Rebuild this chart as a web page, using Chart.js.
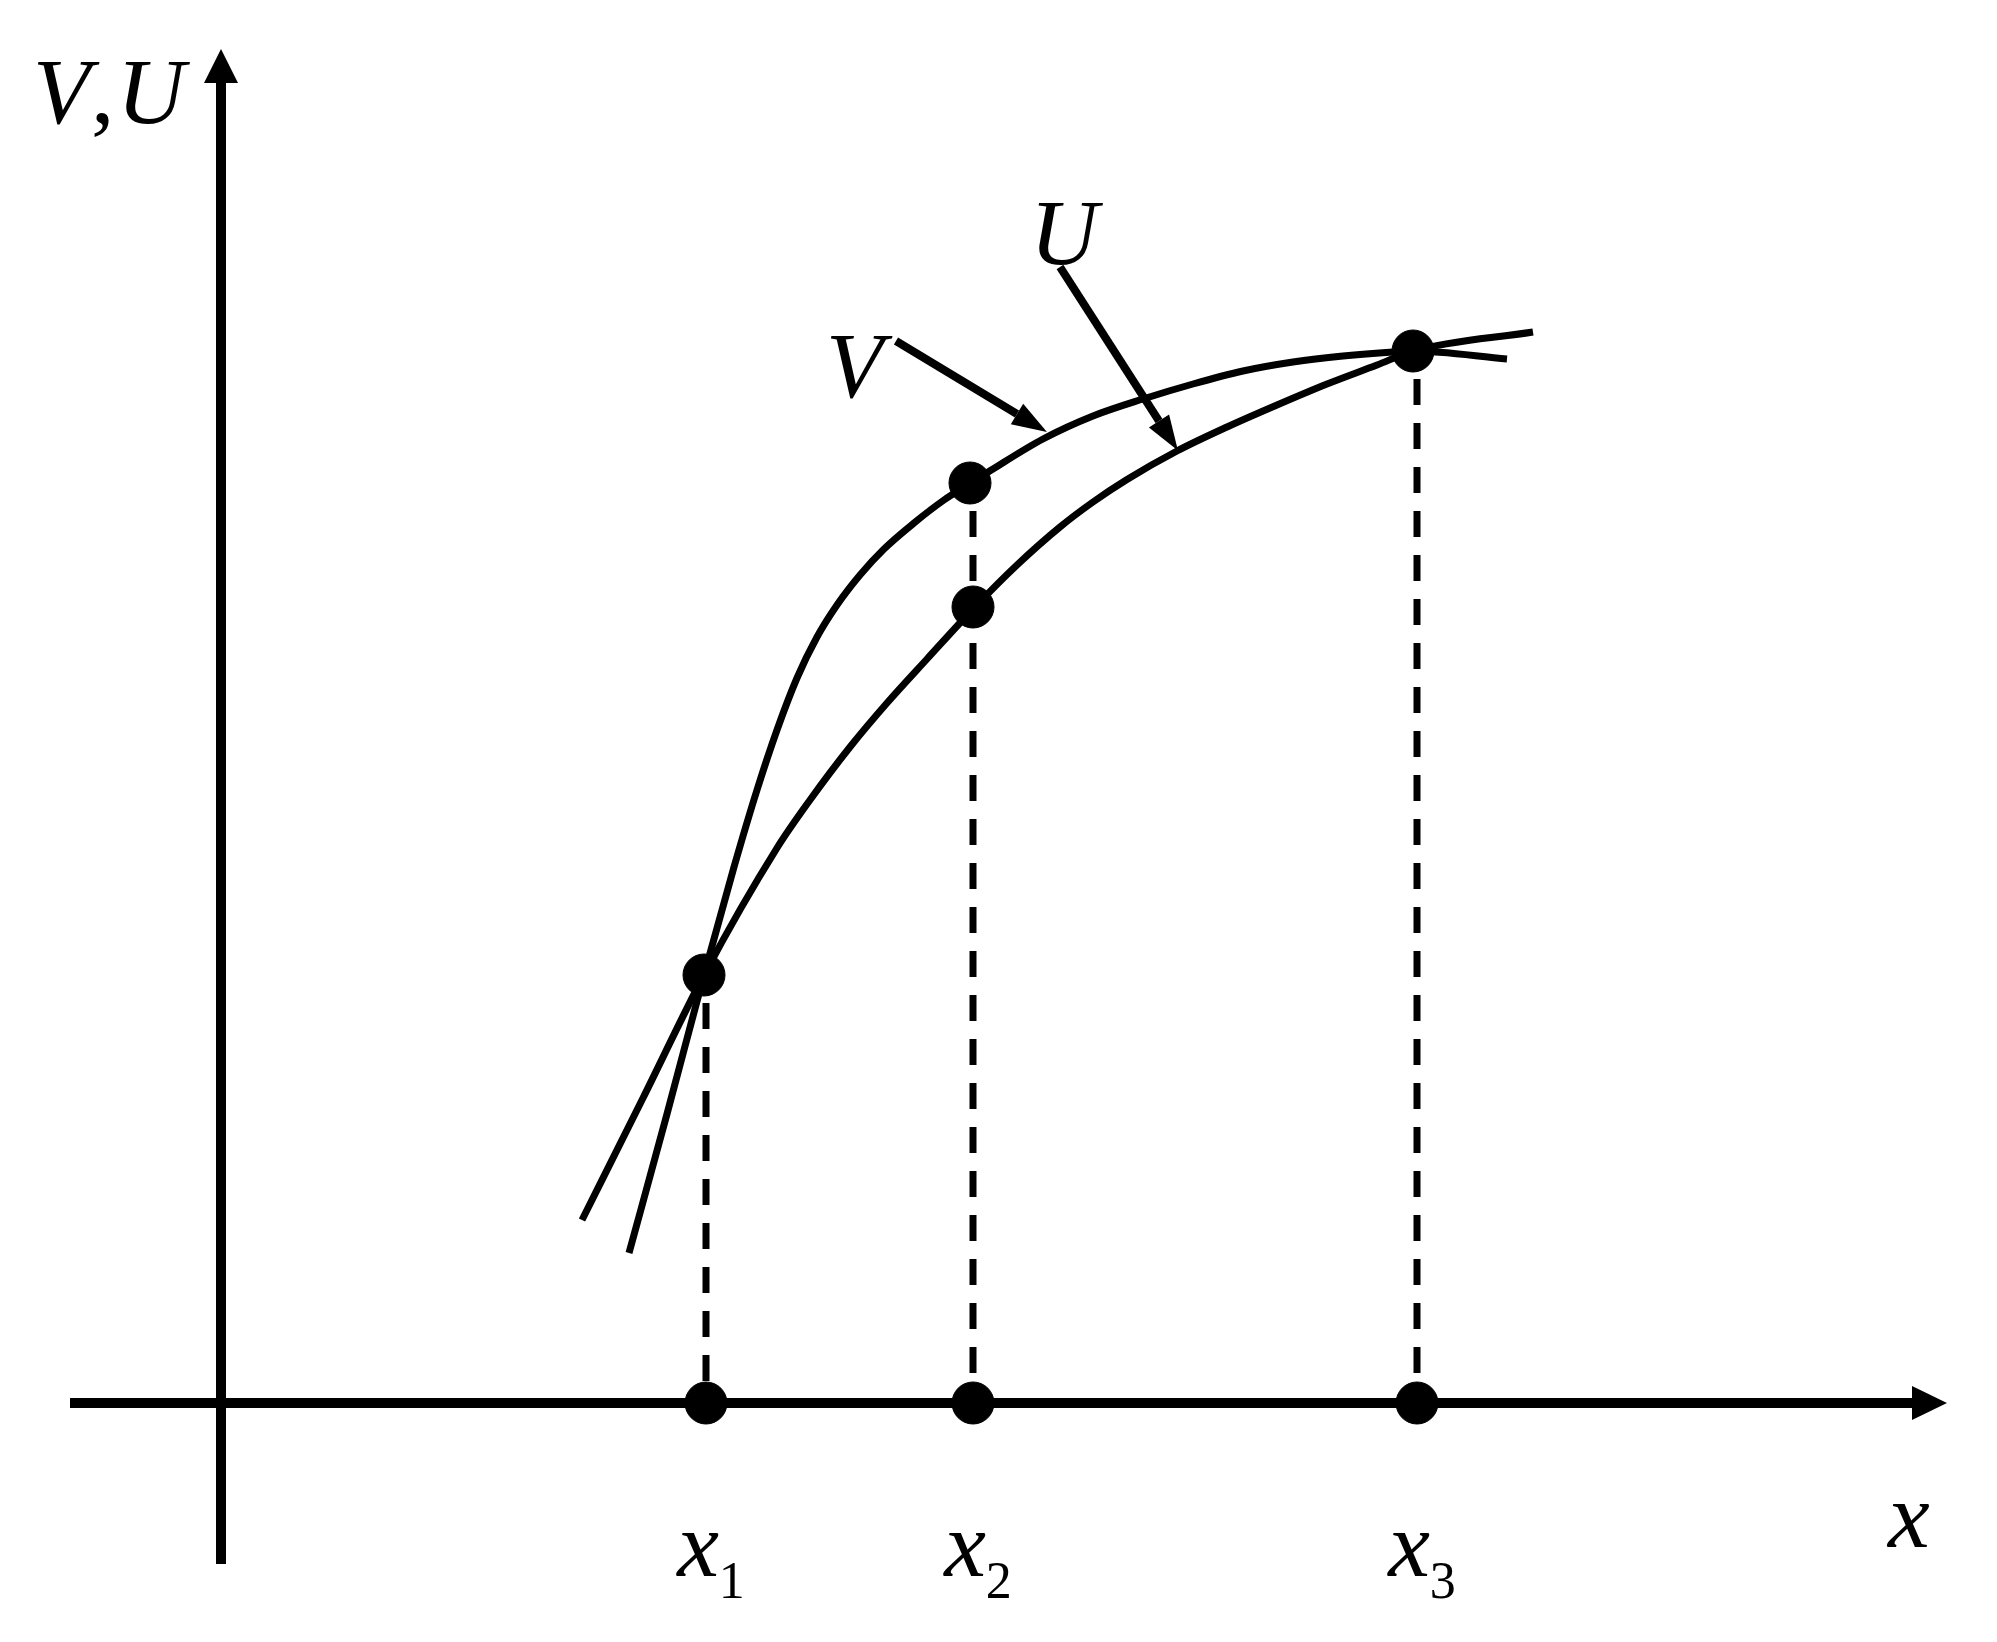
<!DOCTYPE html>
<html>
<head>
<meta charset="utf-8">
<script src="https://cdn.jsdelivr.net/npm/chart.js@4.4.1/dist/chart.umd.min.js"></script>
<style>
  html, body { margin: 0; padding: 0; background: #fff; }
</style>
</head>
<body>
<canvas id="chart" width="1997" height="1642"></canvas>
<script>
// curve V (upper one between x1 and x3)
const vX = [4.08, 4.46, 4.83, 5.13, 5.36, 5.56, 5.76, 5.96, 6.16, 6.39, 6.63, 6.93, 7.23, 7.50, 7.72, 8.22, 8.72, 9.22, 9.72, 10.22, 10.72, 11.22, 11.72, 11.92, 12.86];
const vY = [1.50, 2.89, 4.28, 5.36, 6.13, 6.73, 7.25, 7.66, 7.98, 8.28, 8.54, 8.80, 9.03, 9.20, 9.34, 9.64, 9.87, 10.04, 10.19, 10.32, 10.41, 10.47, 10.51, 10.52, 10.44];
// curve U
const uX = [3.61, 4.22, 4.83, 5.56, 5.89, 6.29, 6.66, 7.06, 7.53, 7.96, 8.39, 8.72, 9.06, 9.56, 10.06, 10.56, 11.06, 11.56, 11.92, 13.12];
const uY = [1.83, 3.05, 4.28, 5.55, 6.03, 6.56, 7.00, 7.44, 7.95, 8.38, 8.76, 9.01, 9.235, 9.52, 9.76, 9.98, 10.19, 10.38, 10.52, 10.71];

// nodes x1, x2, x3 on the axis and the heights of the dashed drop lines
const xTicks = [4.85, 7.52, 11.96];
const tickLabels = ['x', 'x', 'x'];
const tickSubs = ['1', '2', '3'];
const dropTops = [4.28, 9.20, 10.52];

// marked points on the curves
const markX = [4.83, 7.49, 7.52, 11.92];
const markY = [4.28, 9.20, 7.96, 10.52];

// axes extents (arrow head starts at the end)
const xAxisSpan = [-1.51, 16.91];
const yAxisSpan = [-1.61, 13.20];

// pointers from the labels V and U to their curves
const vPointer = [[6.75, 10.62], [7.96, 9.89]];
const uPointer = [[8.39, 11.36], [9.38, 9.82]];

const xy = (xs, ys) => xs.map((v, i) => ({ x: v, y: ys[i] }));
const pairs = (arr) => arr.map(p => ({ x: p[0], y: p[1] }));

const SERIF = '"Liberation Serif", "Times New Roman", serif';

const arrowHeads = {
  id: 'arrowHeads',
  afterDatasetsDraw(chart) {
    const ctx = chart.ctx;
    chart.data.datasets.forEach((ds, i) => {
      if (!ds.head) return;
      const pts = chart.getDatasetMeta(i).data;
      const a = pts[pts.length - 2], b = pts[pts.length - 1];
      const dx = b.x - a.x, dy = b.y - a.y;
      const len = Math.hypot(dx, dy);
      const ux = dx / len, uy = dy / len;
      ctx.save();
      ctx.fillStyle = '#000';
      ctx.beginPath();
      ctx.moveTo(b.x + ux * ds.head.length, b.y + uy * ds.head.length);
      ctx.lineTo(b.x - uy * ds.head.half, b.y + ux * ds.head.half);
      ctx.lineTo(b.x + uy * ds.head.half, b.y - ux * ds.head.half);
      ctx.closePath();
      ctx.fill();
      ctx.restore();
    });
  }
};

const mathText = {
  id: 'mathText',
  afterDraw(chart) {
    const { ctx, scales: { x, y } } = chart;
    ctx.save();
    ctx.fillStyle = '#000';
    ctx.textBaseline = 'alphabetic';
    const italic = 'italic 94px ' + SERIF;
    const upright = '52px ' + SERIF;

    // axis title "V,U" set piece by piece like the original
    ctx.font = italic;
    ctx.textAlign = 'left';
    const tx = x.getPixelForValue(-1.88), ty = y.getPixelForValue(12.80);
    ctx.fillText('V', tx, ty);
    ctx.font = '94px ' + SERIF;
    ctx.fillText(',', tx + 58, ty);
    ctx.font = italic;
    ctx.fillText('U', tx + 84, ty);

    ctx.fillText('x', x.getPixelForValue(16.67), y.getPixelForValue(-1.44));
    ctx.fillText('V', x.getPixelForValue(6.05), y.getPixelForValue(10.06));
    ctx.fillText('U', x.getPixelForValue(8.09), y.getPixelForValue(11.39));

    // x1, x2, x3 under the axis
    const base = y.getPixelForValue(0);
    xTicks.forEach((v, i) => {
      ctx.font = italic;
      const w1 = ctx.measureText(tickLabels[i]).width;
      ctx.font = upright;
      const w2 = ctx.measureText(tickSubs[i]).width;
      const left = x.getPixelForValue(v) + 5 - (w1 + w2) / 2;
      ctx.font = italic;
      ctx.fillText(tickLabels[i], left, base + 173);
      ctx.font = upright;
      ctx.fillText(tickSubs[i], left + w1, base + 195);
    });
    ctx.restore();
  }
};

const line = (data, width, extra) => Object.assign({
  type: 'line',
  data: data,
  borderColor: '#000',
  borderWidth: width,
  pointRadius: 0,
  fill: false,
  clip: false
}, extra || {});

const datasets = [
  {
    type: 'scatter',
    data: xTicks.map(v => ({ x: v, y: 0 })).concat(xy(markX, markY)),
    backgroundColor: '#000',
    borderColor: '#000',
    pointRadius: 21,
    pointHoverRadius: 21,
    order: 0,
    clip: false
  },
  line(xy(vX, vY), 7, { cubicInterpolationMode: 'monotone', order: 2 }),
  line(xy(uX, uY), 7, { cubicInterpolationMode: 'monotone', order: 2 }),
  line([{ x: xAxisSpan[0], y: 0 }, { x: xAxisSpan[1], y: 0 }], 10, { order: 3, head: { length: 35, half: 17 } }),
  line([{ x: 0, y: yAxisSpan[0] }, { x: 0, y: yAxisSpan[1] }], 10, { order: 3, head: { length: 34, half: 17 } }),
  line(pairs(vPointer), 8, { order: 3, head: { length: 35, half: 12 } }),
  line(pairs(uPointer), 8, { order: 3, head: { length: 35, half: 12 } })
];
xTicks.forEach((v, i) => {
  datasets.push(line([{ x: v, y: dropTops[i] }, { x: v, y: 0 }], 7, {
    order: 4, borderDash: [26, 18], borderDashOffset: 16
  }));
});

function draw() {
  new Chart(document.getElementById('chart'), {
    type: 'line',
    data: { datasets: datasets },
    options: {
      responsive: false,
      animation: false,
      layout: { padding: 0, autoPadding: false },
      events: [],
      scales: {
        x: { type: 'linear', min: -2.21, max: 17.76, display: false },
        y: { type: 'linear', min: -2.39, max: 14.03, display: false }
      },
      plugins: {
        legend: { display: false },
        tooltip: { enabled: false }
      }
    },
    plugins: [arrowHeads, mathText]
  });
}

Promise.all([
  document.fonts.load('italic 94px "Liberation Serif"'),
  document.fonts.load('52px "Liberation Serif"')
]).then(draw, draw);
</script>
</body>
</html>
